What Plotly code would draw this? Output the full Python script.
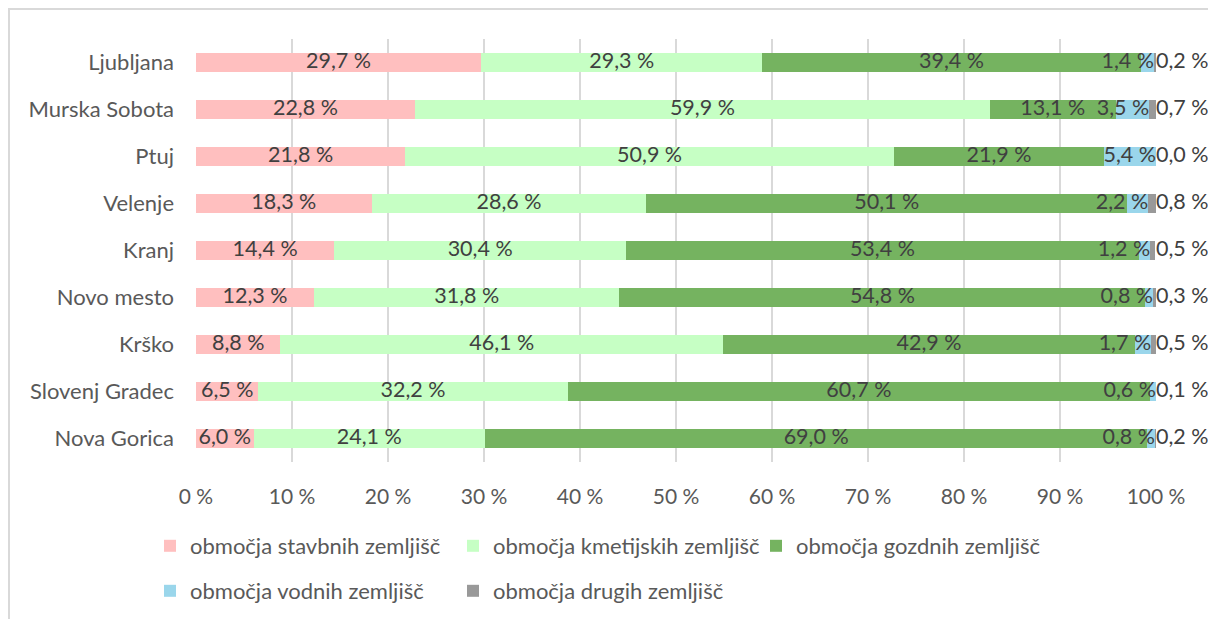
import plotly.graph_objects as go

mesta = ["Ljubljana", "Murska Sobota", "Ptuj", "Velenje", "Kranj",
         "Novo mesto", "Krško", "Slovenj Gradec", "Nova Gorica"]

stavbna = [29.7, 22.8, 21.8, 18.3, 14.4, 12.3, 8.8, 6.5, 6.0]
kmetijska = [29.3, 59.9, 50.9, 28.6, 30.4, 31.8, 46.1, 32.2, 24.1]
gozdna = [39.4, 13.1, 21.9, 50.1, 53.4, 54.8, 42.9, 60.7, 69.0]
vodna = [1.4, 3.5, 5.4, 2.2, 1.2, 0.8, 1.7, 0.6, 0.8]
druga = [0.2, 0.7, 0.0, 0.8, 0.5, 0.3, 0.5, 0.1, 0.2]

imena = ["območja stavbnih zemljišč", "območja kmetijskih zemljišč",
         "območja gozdnih zemljišč", "območja vodnih zemljišč",
         "območja drugih zemljišč"]
barve = ["#FFBFBF", "#C6FFC4", "#75B360", "#9AD6EB", "#999999"]

serije = [stavbna, kmetijska, gozdna, vodna, druga]
FONT = "Lato"
TXT = "#404040"


def fmt(v):
    return f"{v:.1f} %".replace(".", ",")


fig = go.Figure()

# stolpci
for i, (ime, vals, barva) in enumerate(zip(imena, serije, barve)):
    fig.add_trace(go.Bar(
        y=mesta, x=vals, name=ime, orientation="h",
        marker=dict(color=barva, line=dict(width=0)),
        legend="legend" if i < 3 else "legend2",
        hoverinfo="skip",
    ))

# oznake podatkov
zacetek = [0.0] * len(mesta)
for i, vals in enumerate(serije):
    konec = [z + v for z, v in zip(zacetek, vals)]
    if i < 3:
        xs, pos = [z + v / 2 for z, v in zip(zacetek, vals)], "middle center"
    elif i == 3:
        xs, pos = konec, "middle left"
    else:
        xs, pos = [100] * len(mesta), "middle right"
    fig.add_trace(go.Scatter(
        y=mesta, x=xs, mode="text", text=[fmt(v) for v in vals],
        textposition=pos, textfont=dict(family=FONT, size=21.5, color=TXT),
        showlegend=False, hoverinfo="skip", cliponaxis=False,
    ))
    zacetek = konec

leg = dict(orientation="h", xref="container", yref="container",
           x=150 / 1208, xanchor="left", yanchor="middle",
           entrywidth=258, font=dict(size=22, color="#595959"),
           traceorder="normal")

fig.update_layout(
    barmode="stack", bargap=0.6,
    width=1208, height=619,
    margin=dict(l=196, r=52, t=39, b=157),
    paper_bgcolor="white", plot_bgcolor="white",
    font=dict(family=FONT, size=21, color=TXT),
    xaxis=dict(range=[0, 100], dtick=10, ticksuffix=" %",
               showgrid=True, gridcolor="#D9D9D9", gridwidth=2,
               zeroline=False, showline=False, ticks="",
               tickfont=dict(size=21, color="#595959"),
               ticklabelstandoff=20, fixedrange=True),
    yaxis=dict(autorange="reversed", showgrid=False, ticks="",
               ticklabelstandoff=21, tickfont=dict(size=22, color="#595959")),
    legend=dict(leg, y=1 - 546 / 619),
    legend2=dict(leg, y=1 - 591 / 619),
    shapes=[dict(type="rect", xref="paper", yref="paper",
                 x0=(9 - 196) / 960, x1=2, y0=-2, y1=(462 - 9) / 423,
                 line=dict(color="#D9D9D9", width=2), layer="below")],
)

fig.write_html("out.html", config={"displayModeBar": False},
               post_script="document.body.style.margin='0';"
                           "document.body.style.overflow='hidden';")
